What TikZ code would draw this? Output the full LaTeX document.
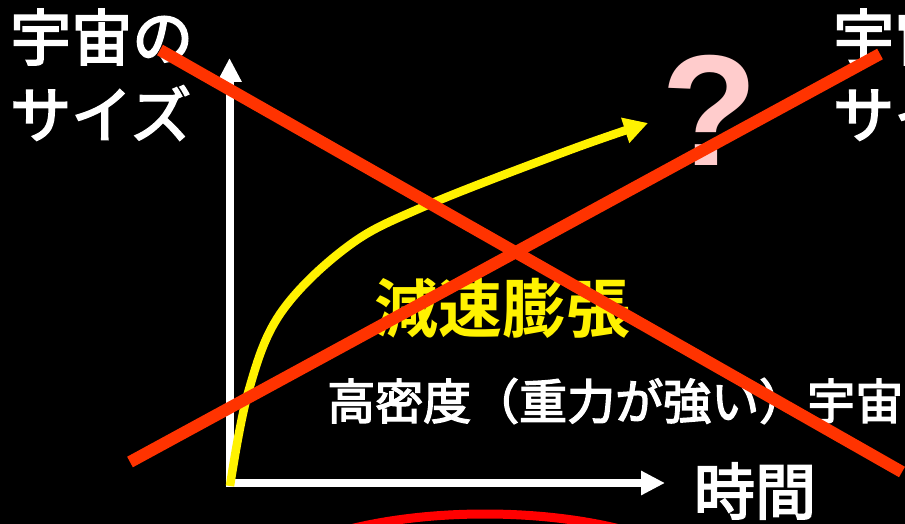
\documentclass[tikz,border=0pt]{standalone}
\usepackage{fontspec}
\newfontfamily\jp{Noto Sans CJK JP}[FakeBold=3]
\newfontfamily\jpb{Noto Sans CJK JP Bold}
\newfontfamily\qfont{Liberation Sans Bold}
\usetikzlibrary{arrows.meta}
\definecolor{xred}{HTML}{FF3300}
\definecolor{qpink}{HTML}{FFCCCC}
\begin{document}
\begin{tikzpicture}[x=1pt,y=-1pt,
  axisline/.style={draw=white, line width=8pt, -{Triangle[length=24pt,width=23pt]}},
  growth/.style={draw=yellow, line width=8.5pt, -{Triangle[length=24pt,width=25pt]}},
  cross/.style={draw=xred, line width=12pt},
  lbl/.style={inner sep=0pt, text=white, font=\jp\fontsize{61}{61}\selectfont},
  midtext/.style={inner sep=0pt, text=white, font=\jp\fontsize{48}{48}\selectfont},
  yeltext/.style={inner sep=0pt, text=yellow, font=\jpb\fontsize{64}{64}\selectfont},
  qmark/.style={inner sep=0pt, text=qpink, font=\qfont\fontsize{158}{158}\selectfont}]
\useasboundingbox (0,0) rectangle (905,524);
\clip (0,0) rectangle (905,524);
\fill[black] (0,0) rectangle (905,524);

% texts
\node[lbl, anchor=west] (ttl1) at (10,37) {宇宙の};
\node[lbl, anchor=west] (ttl2) at (10,113) {サイズ};
\node[lbl, anchor=west] (ttr1) at (833,37) {宇宙の};
\node[lbl, anchor=west] (ttr2) at (833,113) {サイズ};
\node[qmark] (q) at (710,110) {?};
\node[lbl] (time) at (755,491) {時間};
\node[yeltext] (decel) at (502,308) {減速膨張};
\node[midtext, anchor=west] (dense) at (327,401) {高密度（重力が強い）宇宙};

% axes
\coordinate (O) at (229.5,487);
\coordinate (Oh) at (225.5,483);
\coordinate (ytop) at (229.5,58);
\coordinate (xend) at (665,483);
\draw[axisline] (O) -- (ytop);
\draw[axisline] (Oh) -- (xend);

% growth curve
\draw[growth] plot[smooth, tension=0.6] coordinates {(230,486) (248,393) (280,314) (347,247) (423,207) (567,151) (648,123)};

% cross
\coordinate (c1a) at (160,50);
\coordinate (c1b) at (902,472);
\coordinate (c2a) at (130,462);
\coordinate (c2b) at (880,54);
\draw[cross] (c1a) -- (c1b);
\draw[cross] (c2a) -- (c2b);

% bottom arc
\draw[red, line width=9pt] (485,601) ellipse [x radius=240, y radius=87];
\end{tikzpicture}
\end{document}
